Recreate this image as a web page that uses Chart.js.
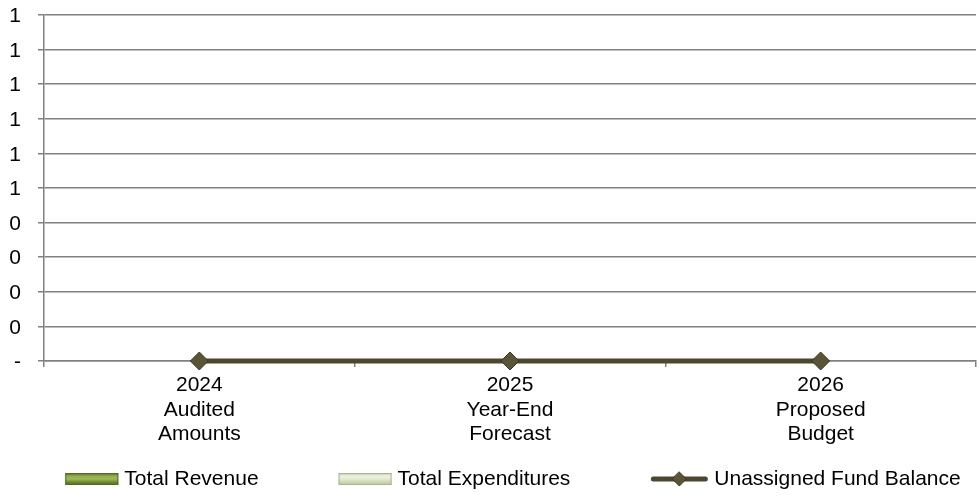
<!DOCTYPE html>
<html>
<head>
<meta charset="utf-8">
<script src="https://cdn.jsdelivr.net/npm/chart.js@4/dist/chart.umd.min.js"></script>
<style>
  body { margin: 0; background: #fff; }
  #wrap { width: 977px; height: 498px; position: relative; }
</style>
</head>
<body>
<div id="wrap"><canvas id="fundChart"></canvas></div>
<script>
  // Budget summary data
  const periods = [
    ["2024", "Audited", "Amounts"],
    ["2025", "Year-End", "Forecast"],
    ["2026", "Proposed", "Budget"],
  ];
  const totalRevenue = [0, 0, 0];
  const totalExpenditures = [0, 0, 0];
  const unassignedFundBalance = [0, 0, 0];

  const FONT = "'Liberation Sans', Arial, sans-serif";
  const FONT_SIZE = 21;
  const GRID = "#808080";
  const LINE = "#4d4731";

  // Bottom legend: bar swatches and line swatch, centered under the plot
  const bottomLegend = {
    id: "bottomLegend",
    afterDraw(chart) {
      const ctx = chart.ctx;
      const area = chart.chartArea;
      const y = 479;
      const gap = 80;
      ctx.save();
      ctx.font = FONT_SIZE + "px " + FONT;
      ctx.textBaseline = "middle";
      ctx.fillStyle = "#000";

      const items = chart.data.datasets.map((ds) => {
        const symW = ds.type === "line" ? 58 : 53;
        return { ds, symW, textW: ctx.measureText(ds.label).width };
      });
      const total =
        items.reduce((s, it) => s + it.symW + 6 + it.textW, 0) +
        gap * (items.length - 1);
      let x = (area.left + area.right) / 2 + 3 - total / 2;

      items.forEach((it) => {
        const ds = it.ds;
        if (ds.type === "line") {
          ctx.strokeStyle = LINE;
          ctx.lineWidth = 5;
          ctx.lineCap = "round";
          ctx.beginPath();
          ctx.moveTo(x + 3, y);
          ctx.lineTo(x + it.symW - 3, y);
          ctx.stroke();
          const cx = x + it.symW / 2;
          ctx.fillStyle = "#5b5537";
          ctx.strokeStyle = "#3b3620";
          ctx.lineWidth = 1;
          ctx.beginPath();
          ctx.moveTo(cx, y - 7);
          ctx.lineTo(cx + 7, y);
          ctx.lineTo(cx, y + 7);
          ctx.lineTo(cx - 7, y);
          ctx.closePath();
          ctx.fill();
          ctx.stroke();
        } else {
          const g = ctx.createLinearGradient(0, y - 6, 0, y + 6);
          ds.swatch.forEach((c, i) => g.addColorStop(i / (ds.swatch.length - 1), c));
          ctx.fillStyle = g;
          ctx.fillRect(x, y - 6, it.symW, 12);
          ctx.strokeStyle = ds.swatchBorder;
          ctx.lineWidth = 1;
          ctx.strokeRect(x + 0.5, y - 5.5, it.symW - 1, 11);
        }
        ctx.fillStyle = "#000";
        ctx.fillText(ds.label, x + it.symW + 6, y);
        x += it.symW + 6 + it.textW + gap;
      });
      ctx.restore();
    },
  };

  new Chart(document.getElementById("fundChart"), {
    data: {
      labels: periods,
      datasets: [
        {
          type: "bar",
          label: "Total Revenue",
          data: totalRevenue,
          backgroundColor: "#9bbb59",
          borderWidth: 0,
          swatch: ["#4f6228", "#8fae4c", "#9bbb59", "#6f8c30", "#4f6228"],
          swatchBorder: "#55692a",
          order: 1,
        },
        {
          type: "bar",
          label: "Total Expenditures",
          data: totalExpenditures,
          backgroundColor: "#d7e4bd",
          borderWidth: 0,
          swatch: ["#b8c59e", "#eef3e2", "#e3ead2", "#cdd8b6", "#b8c59e"],
          swatchBorder: "#a8b58e",
          order: 2,
        },
        {
          type: "line",
          label: "Unassigned Fund Balance",
          data: unassignedFundBalance,
          borderColor: LINE,
          borderWidth: 5,
          pointStyle: "rectRot",
          pointRadius: 9,
          pointBackgroundColor: "#5b5537",
          pointBorderColor: "#3b3620",
          pointBorderWidth: 1,
          clip: false,
          order: 0,
        },
      ],
    },
    options: {
      responsive: true,
      maintainAspectRatio: false,
      animation: false,
      layout: {
        autoPadding: false,
        padding: { left: 0, top: 15, right: 1, bottom: 0 },
      },
      plugins: {
        legend: { display: false },
        tooltip: { enabled: false },
      },
      scales: {
        x: {
          offset: true,
          grid: {
            offset: true,
            drawOnChartArea: false,
            drawTicks: true,
            tickLength: 6,
            color: GRID,
            lineWidth: 1.5,
          },
          border: { display: true, color: GRID, width: 1.5 },
          ticks: {
            color: "#000",
            padding: 6,
            maxRotation: 0,
            font: { family: FONT, size: FONT_SIZE, lineHeight: 1.17 },
          },
          afterFit: (s) => {
            s.height = 137;
            s.paddingLeft = 0;
            s.paddingRight = 0;
          },
        },
        y: {
          min: 0,
          max: 1,
          ticks: {
            stepSize: 0.1,
            color: "#000",
            padding: 17,
            labelOffset: 1.5,
            font: { family: FONT, size: FONT_SIZE },
            callback: (v) => (v === 0 ? "-" : String(Math.round(v))),
          },
          grid: { color: GRID, lineWidth: 1.5, tickLength: 6 },
          border: { display: true, color: GRID, width: 1.5 },
          afterFit: (s) => {
            s.width = 44;
            s.paddingTop = 0;
            s.paddingBottom = 0;
          },
        },
      },
    },
    plugins: [bottomLegend],
  });
</script>
</body>
</html>
